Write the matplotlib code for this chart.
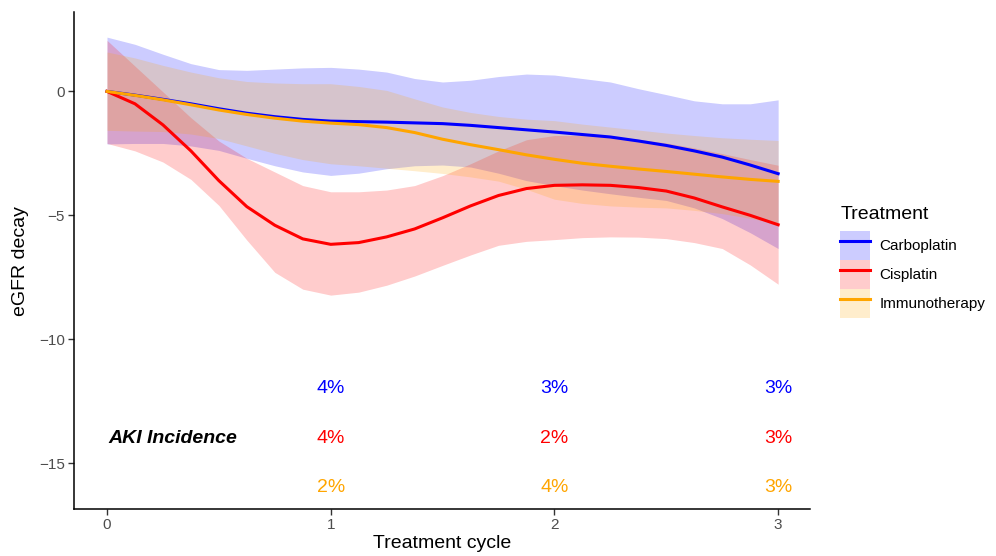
import matplotlib
matplotlib.use("Agg")
import matplotlib.pyplot as plt
from matplotlib.patches import Patch
from matplotlib.lines import Line2D
from matplotlib.legend_handler import HandlerTuple

plt.rcParams['font.family'] = ['Liberation Sans', 'DejaVu Sans']

# smoothed eGFR decay per treatment at 0.125 steps
cycle = [0, 0.125, 0.25, 0.375, 0.5, 0.625, 0.75, 0.875, 1.0,
         1.125, 1.25, 1.375, 1.5, 1.625, 1.75, 1.875, 2.0,
         2.125, 2.25, 2.375, 2.5, 2.625, 2.75, 2.875, 3.0]

carbo_mean = [0, -0.15, -0.32, -0.5, -0.7, -0.88, -1.02, -1.13, -1.2,
              -1.22, -1.24, -1.27, -1.3, -1.37, -1.46, -1.55, -1.64,
              -1.74, -1.84, -2.0, -2.18, -2.4, -2.65, -2.97, -3.32]
carbo_hi = [2.19, 1.9, 1.5, 1.12, 0.88, 0.85, 0.9, 0.95, 0.97,
            0.9, 0.78, 0.52, 0.38, 0.45, 0.6, 0.7, 0.66,
            0.52, 0.38, 0.11, -0.13, -0.38, -0.5, -0.5, -0.34]
carbo_lo = [-2.12, -2.1, -2.1, -2.2, -2.38, -2.7, -3.0, -3.25, -3.39,
            -3.3, -3.12, -3.0, -2.97, -3.05, -3.3, -3.6, -3.8,
            -3.98, -4.13, -4.27, -4.4, -4.7, -5.13, -5.7, -6.34]

cis_mean = [0, -0.5, -1.35, -2.4, -3.6, -4.65, -5.4, -5.95, -6.17,
            -6.1, -5.87, -5.55, -5.1, -4.62, -4.2, -3.92, -3.79,
            -3.77, -3.79, -3.88, -4.02, -4.3, -4.66, -5.0, -5.38]
cis_hi = [2.06, 1.02, -0.02, -1.06, -2.0, -2.7, -3.25, -3.8, -4.05,
          -4.05, -3.98, -3.8, -3.4, -2.92, -2.4, -1.95, -1.78,
          -1.78, -1.81, -1.93, -2.08, -2.28, -2.51, -2.75, -2.98]
cis_lo = [-2.1, -2.4, -2.85, -3.55, -4.6, -6.0, -7.3, -7.98, -8.22,
          -8.1, -7.82, -7.45, -7.02, -6.6, -6.21, -6.05, -5.98,
          -5.9, -5.87, -5.88, -5.94, -6.1, -6.34, -7.0, -7.78]

immuno_mean = [0, -0.16, -0.34, -0.54, -0.75, -0.93, -1.08, -1.2, -1.28,
               -1.34, -1.46, -1.66, -1.93, -2.15, -2.35, -2.56, -2.74,
               -2.9, -3.02, -3.13, -3.23, -3.34, -3.45, -3.55, -3.63]
immuno_hi = [1.59, 1.35, 1.05, 0.78, 0.55, 0.4, 0.34, 0.31, 0.31,
             0.2, 0.04, -0.3, -0.63, -0.85, -1.01, -1.12, -1.18,
             -1.32, -1.44, -1.56, -1.68, -1.78, -1.87, -1.93, -1.98]
immuno_lo = [-1.57, -1.6, -1.62, -1.72, -1.9, -2.2, -2.5, -2.75, -2.92,
             -3.0, -3.1, -3.2, -3.31, -3.45, -3.62, -3.95, -4.35,
             -4.52, -4.62, -4.67, -4.7, -4.8, -4.93, -5.12, -5.34]

treatments = ["Carboplatin", "Cisplatin", "Immunotherapy"]
colors = ["#0000FF", "#FF0000", "#FFA500"]

# AKI incidence table
aki_cycles = [1, 2, 3]
aki_carbo = ["4%", "3%", "3%"]
aki_cis = ["4%", "2%", "3%"]
aki_immuno = ["2%", "4%", "3%"]
aki_rows = [-12, -14, -16]

fig = plt.figure(figsize=(9.96, 5.56), dpi=100)
ax = fig.add_axes([0.0743, 0.0845, 0.7390, 0.8933])

series = [(carbo_mean, carbo_lo, carbo_hi),
          (cis_mean, cis_lo, cis_hi),
          (immuno_mean, immuno_lo, immuno_hi)]
for (m, lo, hi), c in zip(series, colors):
    ax.fill_between(cycle, lo, hi, color=c, alpha=0.2, linewidth=0)
    ax.plot(cycle, m, color=c, linewidth=2.2, solid_joinstyle='round')

for labels, c, yr in zip([aki_carbo, aki_cis, aki_immuno], colors, aki_rows):
    for xc, lab in zip(aki_cycles, labels):
        ax.text(xc, yr, lab, color=c, fontsize=14, ha='center', va='center')
ax.text(0.295, -14, "AKI Incidence", fontsize=14, fontweight='bold',
        fontstyle='italic', ha='center', va='center')

ax.set_xlim(-0.1475, 3.1426)
ax.set_ylim(-16.85, 3.19)
ax.set_xticks([0, 1, 2, 3])
ax.set_yticks([0, -5, -10, -15])
ax.spines['top'].set_visible(False)
ax.spines['right'].set_visible(False)
for s in ['left', 'bottom']:
    ax.spines[s].set_linewidth(1.1)
ax.tick_params(length=4, width=1, color='#333333', labelcolor='#4D4D4D',
               labelsize=11, pad=2.5)
ax.set_xlabel("Treatment cycle", fontsize=14, labelpad=2)
ax.set_ylabel("eGFR decay", fontsize=14, labelpad=7)

handles = [(Patch(facecolor=c, alpha=0.2, linewidth=0),
            Line2D([], [], color=c, linewidth=2.2)) for c in colors]
leg = ax.legend(handles, treatments, title="Treatment", loc='upper left',
                bbox_to_anchor=(0.8435, 0.630), bbox_transform=fig.transFigure,
                frameon=False, fontsize=11, title_fontsize=14,
                handlelength=1.96, handleheight=2.55, labelspacing=0,
                handletextpad=0.6, borderpad=0, borderaxespad=0,
                handler_map={tuple: HandlerTuple(ndivide=1, pad=0)})
leg._legend_box.align = "left"
leg._legend_box.sep = 6

fig.savefig("out.png", dpi=100)
